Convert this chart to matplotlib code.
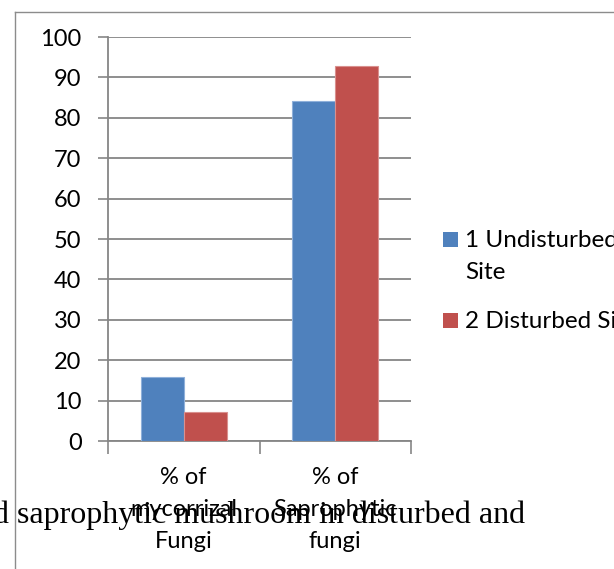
import matplotlib
matplotlib.use("Agg")
import matplotlib.pyplot as plt
from matplotlib.patches import Rectangle
from matplotlib.lines import Line2D
import numpy as np

# Data
categories = ["% of\nmycorrizal\nFungi", "% of\nSaprophytic\nfungi"]
series_names = ["1 Undisturbed\nSite", "2 Disturbed Site"]
undisturbed = [15.8, 84.2]
disturbed = [7.1, 92.9]
yticks = [0, 10, 20, 30, 40, 50, 60, 70, 80, 90, 100]

colors = ["#4F81BD", "#C0504D"]
edges = ["#8FB0DA", "#D9908E"]
grid_col = "#868686"

W, H = 614, 569
fig = plt.figure(figsize=(W / 100, H / 100), dpi=100)
fig.patch.set_facecolor("white")

plt.rcParams["font.family"] = ["Lato", "DejaVu Sans"]

def px(x, y):
    return x / W, 1 - y / H

# outer chart frame (only top and left edges fall inside the canvas)
fig.add_artist(Line2D([15 / W, 15 / W], [0, 1 - 12 / H], transform=fig.transFigure,
                      color="#8C8C8C", lw=1.0))
fig.add_artist(Line2D([15 / W, 1], [1 - 12 / H, 1 - 12 / H], transform=fig.transFigure,
                      color="#8C8C8C", lw=1.0))

ax = fig.add_axes([108 / W, 1 - 441 / H, 303 / W, 404 / H])
ax.set_facecolor("none")

x = np.arange(len(categories)) + 0.5
bw = 0.283
series = [undisturbed, disturbed]
for i, vals in enumerate(series):
    ax.bar(x + (i - 0.5) * bw, vals, width=bw, color=colors[i],
           edgecolor=edges[i], linewidth=0.8, zorder=3)

ax.set_xlim(0, len(categories))
ax.set_ylim(0, 100)
ax.set_yticks(yticks)
ax.set_yticklabels([str(v) for v in yticks], fontsize=17)
ax.yaxis.grid(True, color=grid_col, lw=1.3, zorder=0)
ax.set_axisbelow(True)

ax.set_xticks(np.arange(len(categories) + 1))
ax.set_xticklabels([])
ax.set_xticks(x, minor=True)
ax.set_xticklabels(categories, minor=True, fontsize=17, linespacing=1.65)
ax.tick_params(axis="x", which="major", length=9, width=1.2, color=grid_col, direction="out")
ax.tick_params(axis="x", which="minor", length=0, pad=19)
ax.tick_params(axis="y", length=7, width=1.2, color=grid_col, pad=12)

for s in ["top", "right"]:
    ax.spines[s].set_visible(False)
for s in ["left", "bottom"]:
    ax.spines[s].set_color(grid_col)
    ax.spines[s].set_linewidth(1.3)

# legend entries: square beside the first line of each label
leg_box_top = [232, 313]
leg_text_top = [230, 311]
for i, name in enumerate(series_names):
    x0, y0 = px(443, leg_box_top[i] + 15)
    fig.add_artist(Rectangle((x0, y0), 15 / W, 15 / H, transform=fig.transFigure,
                             facecolor=colors[i], edgecolor="none"))
    fx, fy = px(465, leg_text_top[i])
    fig.text(fx, fy, name, fontsize=17.5, va="top", ha="left", linespacing=1.62)

# caption line from the surrounding page
cx, cy = px(525, 523)
fig.text(cx, cy, "d saprophytic mushroom in disturbed and", fontsize=23,
         family="Liberation Serif", ha="right", va="baseline", color="black")

fig.savefig("out.png", dpi=100)
